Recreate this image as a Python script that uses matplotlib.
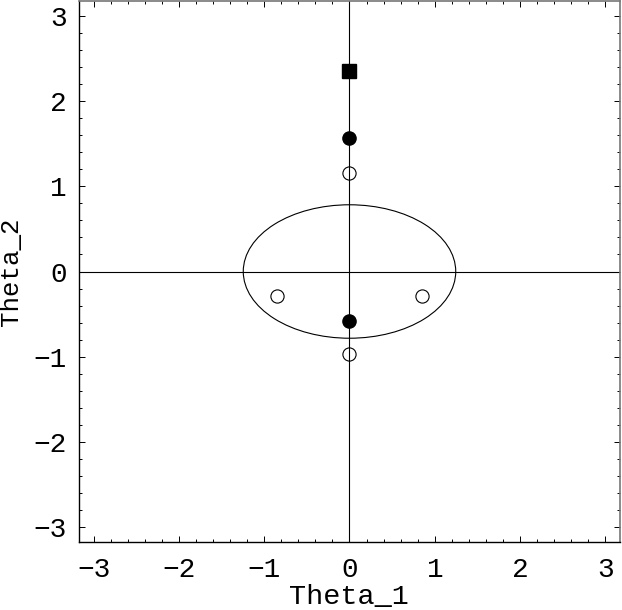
import matplotlib
matplotlib.use("Agg")
import matplotlib.pyplot as plt
from matplotlib.patches import Ellipse
from matplotlib.ticker import MultipleLocator, FixedLocator

plt.rcParams['font.family'] = ['Liberation Mono', 'DejaVu Sans Mono']

# data
square_x = [0.0]
square_y = [2.35]
filled_x = [0.0, 0.0]
filled_y = [1.56, -0.575]
open_x = [0.0, 0.0, -0.855, 0.855]
open_y = [1.155, -0.965, -0.29, -0.29]
ellipse_center = (0.0, 0.0)
ellipse_semi = (1.245, 0.782)
ticks = [-3, -2, -1, 0, 1, 2, 3]
tick_labels = ["\u22123", "\u22122", "\u22121", "0", "1", "2", "3"]
lim = (-3.17, 3.17)

W, H = 622, 610
fig = plt.figure(figsize=(W/100, H/100), dpi=100)
ax = fig.add_axes([79/W, 1 - 542/H, (620 - 79)/W, (542 - 1)/H])

ax.axhline(0, color='black', lw=0.8, zorder=1)
ax.axvline(0, color='black', lw=0.8, zorder=1)

ax.add_patch(Ellipse(ellipse_center, 2*ellipse_semi[0], 2*ellipse_semi[1],
                     fill=False, edgecolor='black', lw=0.8, zorder=2))

ax.plot(open_x, open_y, 'o', ms=9.5, mfc='none', mec='black', mew=0.8, ls='none', zorder=3)
ax.plot(filled_x, filled_y, 'o', ms=9.5, color='black', ls='none', zorder=3)
ax.plot(square_x, square_y, 's', ms=9.5, color='black', ls='none', zorder=3)

ax.set_xlim(*lim)
ax.set_ylim(*lim)

ax.xaxis.set_major_locator(FixedLocator(ticks))
ax.yaxis.set_major_locator(FixedLocator(ticks))
ax.set_xticklabels(tick_labels)
ax.set_yticklabels(tick_labels)
ax.xaxis.set_minor_locator(MultipleLocator(0.2))
ax.yaxis.set_minor_locator(MultipleLocator(0.2))
ax.tick_params(which='both', direction='in', top=True, right=True, width=0.7, color='black')
ax.tick_params(which='major', length=4, labelsize=20)
ax.tick_params(axis='x', which='major', pad=11)
ax.tick_params(axis='y', which='major', pad=9)
ax.tick_params(which='minor', length=2)

for s in ['left', 'bottom']:
    ax.spines[s].set_linewidth(1.0)
    ax.spines[s].set_color('black')
for s in ['top', 'right']:
    ax.spines[s].set_linewidth(1.2)
    ax.spines[s].set_color('#777777')

fig.text(349/W, 1 - 604/H, 'Theta_1', fontsize=20.5, ha='center', va='baseline')
fig.text(18/W, 1 - 272/H, 'Theta_2', fontsize=18.5, ha='center', va='baseline',
         rotation=90, rotation_mode='anchor')

fig.savefig('out.png', dpi=100)
